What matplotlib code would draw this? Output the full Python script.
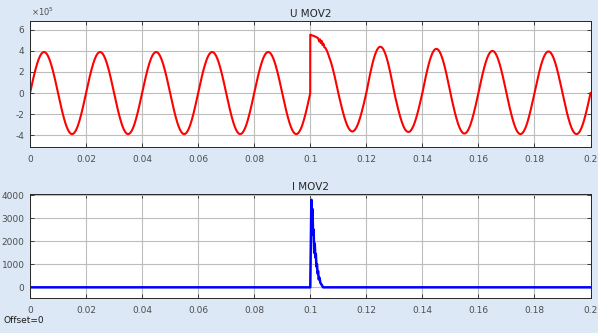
import numpy as np
import matplotlib
matplotlib.use("Agg")
import matplotlib.pyplot as plt

# ---- data ----
freq_hz = 50.0
t_end = 0.2
# peak value (x1e5) of each half cycle, 0.01 s each, signed
half_cycle_peaks = [3.9, -3.9, 3.9, -3.9, 3.9, -3.9, 3.9, -3.9, 3.9, -3.9,
                    4.0, -3.65, 4.4, -3.7, 4.2, -3.85, 4.0, -3.9, 3.95, -3.9]
# over-voltage envelope just after the switching event at 0.1 s (x1e5)
surge_t = [0.1000, 0.1010, 0.1020, 0.1028, 0.1032, 0.1035, 0.1038, 0.1041,
           0.1044, 0.1047, 0.1050, 0.1054, 0.1058, 0.1062, 0.1066]
surge_v = [5.55, 5.45, 5.35, 5.20, 4.90, 5.10, 4.75, 4.95, 4.55,
           4.70, 4.35, 4.30, 4.10, 3.85, 3.55]
# MOV current spike (A)
i_t = [0.0, 0.1000, 0.1004, 0.1006, 0.1008, 0.1010, 0.1012, 0.1014, 0.1016,
       0.1018, 0.1020, 0.1022, 0.1024, 0.1026, 0.1028, 0.1030, 0.1033,
       0.1036, 0.1040, 0.1046, 0.2]
i_v = [0.0, 0.0, 3800, 3100, 3400, 2300, 2500, 1500, 1900,
       1300, 1450, 900, 1000, 600, 700, 350, 420, 200, 120, 0.0, 0.0]

u_yticks = [-4, -2, 0, 2, 4, 6]
i_yticks = [0, 1000, 2000, 3000, 4000]
x_ticks = [0, 0.02, 0.04, 0.06, 0.08, 0.1, 0.12, 0.14, 0.16, 0.18, 0.2]
x_labels = ["0", "0.02", "0.04", "0.06", "0.08", "0.1", "0.12", "0.14", "0.16", "0.18", "0.2"]

# ---- build voltage trace from the read peaks ----
t = np.linspace(0, t_end, 8001)
idx = np.minimum((t / 0.01).astype(int), len(half_cycle_peaks) - 1)
amp = np.abs(np.array(half_cycle_peaks))[idx]
u = amp * np.sin(2 * np.pi * freq_hz * t)
m = (t >= surge_t[0]) & (t <= surge_t[-1])
u[m] = np.maximum(u[m], np.interp(t[m], surge_t, surge_v))
u *= 1e5

bg = "#dce8f6"
fig = plt.figure(figsize=(5.98, 3.33), dpi=100, facecolor=bg)

ax1 = fig.add_axes([0.0502, 0.5595, 0.9373, 0.3775])
ax2 = fig.add_axes([0.0502, 0.1060, 0.9373, 0.3114])

for ax in (ax1, ax2):
    ax.set_facecolor("white")
    ax.set_xlim(0, t_end)
    ax.set_xticks(x_ticks)
    ax.set_xticklabels(x_labels)
    ax.grid(True, color="#bdbdbd", linewidth=0.8)
    ax.set_axisbelow(True)
    ax.tick_params(direction="in", length=3, width=0.6, colors="#262626",
                   labelcolor="#4d4d4d", labelsize=6.5, pad=4,
                   top=True, right=True)
    ax.tick_params(axis="x", pad=6)
    for s in ax.spines.values():
        s.set_color("#262626")
        s.set_linewidth(0.7)

ax1.plot(t, u, color="#ff0000", linewidth=1.5)
ax1.set_ylim(-5.1e5, 6.85e5)
ax1.set_yticks([v * 1e5 for v in u_yticks])
ax1.set_yticklabels([str(v) for v in u_yticks])
ax1.set_title("U MOV2", fontsize=7.5, color="#262626", pad=3)
fig.text(0.052, 0.945, r"$\times10^5$", fontsize=6, color="#4d4d4d", ha="left", va="bottom")

ax2.plot(i_t, i_v, color="#0000ff", linewidth=1.8)
ax2.set_ylim(-450, 4050)
ax2.set_yticks(i_yticks)
ax2.set_yticklabels([str(v) for v in i_yticks])
ax2.set_title("I MOV2", fontsize=7.5, color="#262626", pad=3)

fig.text(0.006, 0.025, "Offset=0", fontsize=6.5, color="#1a1a1a", ha="left", va="bottom")

fig.savefig("out.png", dpi=100, facecolor=bg)
